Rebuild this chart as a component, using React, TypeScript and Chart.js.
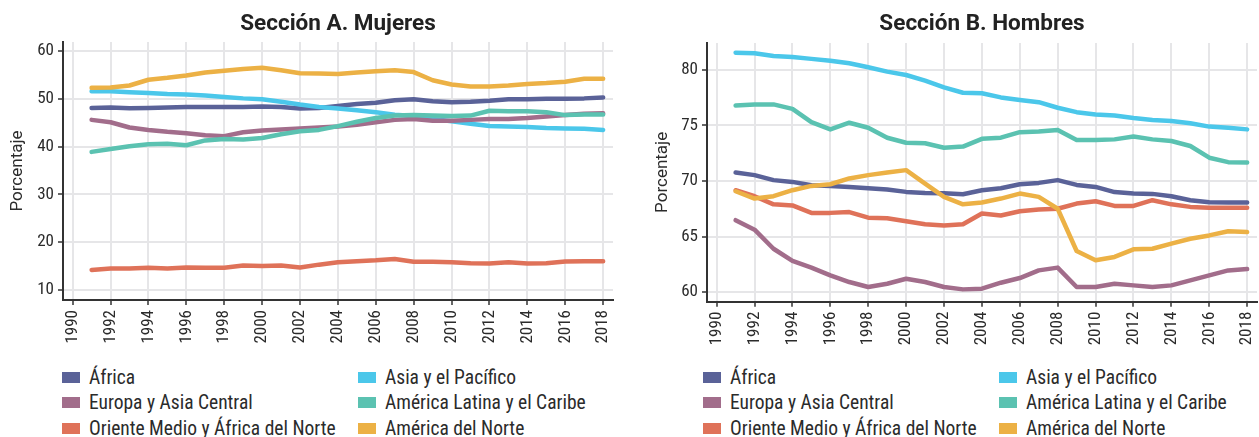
import React, { useEffect, useRef } from "react";
import { Chart, registerables } from "chart.js";

Chart.register(...registerables);

// ---------- data ----------
const YEARS = [
  1991, 1992, 1993, 1994, 1995, 1996, 1997, 1998, 1999, 2000, 2001, 2002, 2003, 2004,
  2005, 2006, 2007, 2008, 2009, 2010, 2011, 2012, 2013, 2014, 2015, 2016, 2017, 2018,
];
const X_TICKS = [1990, 1992, 1994, 1996, 1998, 2000, 2002, 2004, 2006, 2008, 2010, 2012, 2014, 2016, 2018];

const SERIES_NAMES = [
  "África",
  "Asia y el Pacífico",
  "Europa y Asia Central",
  "América Latina y el Caribe",
  "Oriente Medio y África del Norte",
  "América del Norte",
];
const SERIES_COLORS = ["#5a6298", "#4bc7ea", "#a26d8b", "#5bc2b1", "#df7259", "#ecb145"];

const TITLE_A = "Sección A. Mujeres";
const TITLE_B = "Sección B. Hombres";
const Y_LABEL = "Porcentaje";
const Y_TICKS_A = [10, 20, 30, 40, 50, 60];
const Y_TICKS_B = [60, 65, 70, 75, 80];

// Sección A. Mujeres
const MUJ_AFRICA = [48.1, 48.2, 48.05, 48.1, 48.2, 48.3, 48.3, 48.3, 48.3, 48.4, 48.3, 48.0, 48.1, 48.5, 48.9, 49.2, 49.7, 49.9, 49.5, 49.3, 49.4, 49.6, 49.9, 49.9, 50.0, 50.0, 50.1, 50.3];
const MUJ_ASIA = [51.6, 51.6, 51.4, 51.25, 51.0, 50.9, 50.7, 50.4, 50.1, 49.9, 49.4, 48.8, 48.3, 48.0, 47.6, 47.2, 46.7, 46.4, 45.8, 45.3, 44.8, 44.3, 44.2, 44.1, 43.9, 43.8, 43.75, 43.5];
const MUJ_EUROPA = [45.6, 45.1, 44.0, 43.5, 43.1, 42.8, 42.4, 42.2, 43.0, 43.4, 43.6, 43.8, 44.0, 44.2, 44.6, 45.1, 45.6, 45.8, 45.4, 45.4, 45.6, 45.8, 45.8, 46.0, 46.3, 46.6, 46.9, 47.0];
const MUJ_LATAM = [38.9, 39.5, 40.1, 40.5, 40.6, 40.3, 41.3, 41.6, 41.5, 41.8, 42.6, 43.2, 43.5, 44.3, 45.2, 46.0, 46.5, 46.6, 46.5, 46.4, 46.5, 47.5, 47.4, 47.4, 47.2, 46.6, 46.7, 46.7];
const MUJ_ORIENTE = [14.2, 14.5, 14.5, 14.65, 14.5, 14.7, 14.65, 14.65, 15.1, 15.0, 15.1, 14.7, 15.3, 15.8, 16.0, 16.2, 16.5, 15.9, 15.9, 15.8, 15.6, 15.55, 15.8, 15.55, 15.6, 15.97, 16.0, 16.0];
const MUJ_NORTE = [52.3, 52.4, 52.8, 54.0, 54.4, 54.9, 55.5, 55.9, 56.25, 56.5, 56.0, 55.35, 55.3, 55.2, 55.5, 55.8, 56.0, 55.6, 53.9, 53.0, 52.6, 52.6, 52.8, 53.1, 53.3, 53.6, 54.2, 54.2];

// Sección B. Hombres
const HOM_AFRICA = [70.77, 70.53, 70.08, 69.92, 69.62, 69.56, 69.47, 69.35, 69.23, 69.02, 68.93, 68.9, 68.81, 69.17, 69.35, 69.71, 69.83, 70.08, 69.65, 69.47, 69.0, 68.87, 68.84, 68.63, 68.27, 68.09, 68.06, 68.06];
const HOM_ASIA = [81.56, 81.5, 81.26, 81.17, 81.0, 80.84, 80.6, 80.24, 79.85, 79.55, 79.04, 78.44, 77.95, 77.9, 77.53, 77.3, 77.1, 76.6, 76.2, 76.0, 75.9, 75.67, 75.5, 75.4, 75.2, 74.9, 74.8, 74.65];
const HOM_EUROPA = [66.47, 65.62, 63.9, 62.8, 62.2, 61.5, 60.9, 60.45, 60.75, 61.2, 60.9, 60.45, 60.24, 60.3, 60.84, 61.26, 61.95, 62.2, 60.45, 60.45, 60.75, 60.6, 60.45, 60.6, 61.05, 61.5, 61.95, 62.07];
const HOM_LATAM = [76.8, 76.9, 76.9, 76.5, 75.3, 74.65, 75.25, 74.8, 73.9, 73.45, 73.4, 73.0, 73.1, 73.8, 73.9, 74.4, 74.45, 74.6, 73.7, 73.7, 73.75, 74.0, 73.75, 73.6, 73.15, 72.1, 71.7, 71.67];
const HOM_ORIENTE = [69.17, 68.63, 67.9, 67.8, 67.13, 67.13, 67.2, 66.7, 66.65, 66.38, 66.1, 66.0, 66.1, 67.07, 66.9, 67.28, 67.43, 67.5, 67.97, 68.18, 67.76, 67.76, 68.27, 67.9, 67.67, 67.6, 67.6, 67.6];
const HOM_NORTE = [69.08, 68.42, 68.63, 69.17, 69.56, 69.71, 70.23, 70.53, 70.77, 70.98, 69.77, 68.57, 67.9, 68.06, 68.42, 68.87, 68.57, 67.5, 63.7, 62.86, 63.16, 63.85, 63.9, 64.36, 64.8, 65.1, 65.47, 65.4];

const SERIES_A = [MUJ_AFRICA, MUJ_ASIA, MUJ_EUROPA, MUJ_LATAM, MUJ_ORIENTE, MUJ_NORTE];
const SERIES_B = [HOM_AFRICA, HOM_ASIA, HOM_EUROPA, HOM_LATAM, HOM_ORIENTE, HOM_NORTE];

// ---------- styling ----------
const FONT = '"Liberation Sans Narrow", "Roboto Condensed", "DejaVu Sans Condensed", Roboto, sans-serif';
const YTITLE_FONT = 'Roboto, "Liberation Sans", sans-serif';
const TITLE_FONT = 'Roboto, "Liberation Sans", sans-serif';
const TEXT = "#2b2b2b";
const GRID = "#e6e6e8";
const AXIS = "#333333";

type PanelProps = {
  title: string;
  series: number[][];
  yTicks: number[];
  yMin: number;
  yMax: number;
  width: number;
  height: number;
  axisWidth: number;
  yTitlePad: number;
  titleTop: number;
  titleBottom: number;
  rightPad: number;
  xAxisHeight: number;
};

function Panel(p: PanelProps) {
  const ref = useRef<HTMLCanvasElement | null>(null);
  useEffect(() => {
    if (!ref.current) return;
    const chart = new Chart(ref.current, {
      type: "line",
      data: {
        datasets: p.series.map((vals, i) => ({
          label: SERIES_NAMES[i],
          data: YEARS.map((yr, j) => ({ x: yr, y: vals[j] })),
          borderColor: SERIES_COLORS[i],
          backgroundColor: SERIES_COLORS[i],
          borderWidth: 4.5,
          pointRadius: 0,
          tension: 0,
          borderCapStyle: "round",
          borderJoinStyle: "round",
          order: p.series.length - i,
        })),
      },
      options: {
        responsive: false,
        animation: false,
        devicePixelRatio: 1,
        layout: { padding: { left: 0, right: p.rightPad, top: 0, bottom: 0 } },
        plugins: {
          legend: { display: false },
          tooltip: { enabled: false },
          title: {
            display: true,
            text: p.title,
            fullSize: false,
            color: "#222",
            font: { family: TITLE_FONT, size: 22.5, weight: "bold", lineHeight: 1.2 },
            padding: { top: p.titleTop, bottom: p.titleBottom },
          },
        },
        scales: {
          x: {
            type: "linear",
            min: 1989.49,
            max: 2018.52,
            afterBuildTicks: (s: any) => {
              s.ticks = X_TICKS.map((v) => ({ value: v }));
            },
            afterFit: (s: any) => {
              s.height = p.xAxisHeight;
              s.paddingLeft = 0;
              s.paddingRight = 0;
            },
            grid: {
              color: GRID,
              lineWidth: 2,
              drawTicks: true,
              tickLength: 5,
              tickColor: AXIS,
              tickWidth: 1.5,
            },
            border: { display: true, color: AXIS, width: 2 },
            ticks: {
              autoSkip: false,
              minRotation: 90,
              maxRotation: 90,
              padding: 5,
              color: TEXT,
              font: { family: FONT, size: 17 },
              callback: (v: any) => String(v),
            },
          },
          y: {
            type: "linear",
            min: p.yMin,
            max: p.yMax,
            afterBuildTicks: (s: any) => {
              s.ticks = p.yTicks.map((v) => ({ value: v }));
            },
            afterFit: (s: any) => {
              s.width = p.axisWidth;
              s.paddingTop = 0;
              s.paddingBottom = 0;
            },
            grid: {
              color: GRID,
              lineWidth: 2,
              drawTicks: true,
              tickLength: 5,
              tickColor: AXIS,
              tickWidth: 1.5,
            },
            border: { display: true, color: AXIS, width: 2 },
            ticks: {
              padding: 4,
              color: TEXT,
              font: { family: FONT, size: 17 },
              callback: (v: any) => String(v),
            },
            title: {
              display: true,
              text: Y_LABEL,
              color: TEXT,
              font: { family: YTITLE_FONT, size: 17, lineHeight: 1.2 },
              padding: { top: p.yTitlePad, bottom: 0 },
            },
          },
        },
      },
    });
    return () => chart.destroy();
  }, []);
  return <canvas ref={ref} width={p.width} height={p.height} style={{ display: "block" }} />;
}

type LegendProps = { left: number; colGap: number; top: number };

function Legend({ left, colGap, top }: LegendProps) {
  return (
    <>
      {SERIES_NAMES.map((name, i) => {
        const col = i % 2;
        const row = Math.floor(i / 2);
        return (
          <div
            key={name}
            style={{
              position: "absolute",
              left: left + col * colGap,
              top: top + row * 25.7 - 12,
              height: 24,
              display: "flex",
              alignItems: "center",
              whiteSpace: "nowrap",
              fontFamily: FONT,
              fontSize: 19.5,
              color: TEXT,
            }}
          >
            <span
              style={{
                display: "inline-block",
                width: 18,
                height: 11,
                background: SERIES_COLORS[i],
                marginRight: 9,
              }}
            />
            <span>{name}</span>
          </div>
        );
      })}
    </>
  );
}

export default function App() {
  return (
    <div style={{ position: "absolute", left: 0, top: 0, width: 1259, height: 437, background: "#fff", overflow: "hidden" }}>
      <div style={{ position: "absolute", left: 0, top: 0 }}>
        <Panel
          title={TITLE_A}
          series={SERIES_A}
          yTicks={Y_TICKS_A}
          yMin={7.9}
          yMax={61.9}
          width={630}
          height={345}
          axisWidth={63}
          yTitlePad={8}
          titleTop={11}
          titleBottom={4}
          rightPad={17}
          xAxisHeight={45}
        />
      </div>
      <div style={{ position: "absolute", left: 640, top: 0 }}>
        <Panel
          title={TITLE_B}
          series={SERIES_B}
          yTicks={Y_TICKS_B}
          yMin={59.13}
          yMax={82.43}
          width={619}
          height={345}
          axisWidth={67}
          yTitlePad={13}
          titleTop={11}
          titleBottom={5}
          rightPad={2}
          xAxisHeight={43.3}
        />
      </div>
      <Legend left={62} colGap={296} top={377} />
      <Legend left={703} colGap={296} top={377} />
    </div>
  );
}
